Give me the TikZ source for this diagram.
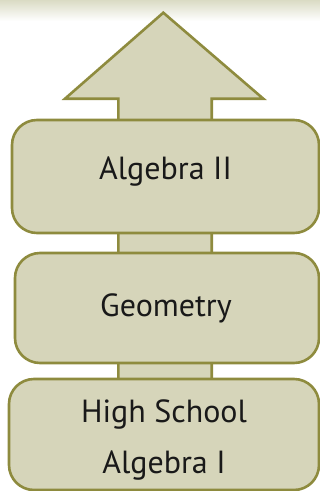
\documentclass[tikz,border=0pt]{standalone}
\usepackage{fontspec}
\setmainfont{PT Sans}
\definecolor{boxfill}{RGB}{214,213,186}
\definecolor{boxline}{RGB}{142,139,62}
\definecolor{bandtop}{RGB}{218,219,196}
\begin{document}
\begin{tikzpicture}[x=1pt,y=-1pt,
  stagebox/.style={draw=boxline, fill=boxfill, line width=2.6pt, rounded corners=25pt, rectangle, inner sep=0pt},
  stagetext/.style={text=black!90, font=\fontsize{32}{51}\selectfont, align=center, inner sep=0pt},
  arrowshape/.style={draw=boxline, fill=boxfill, line width=2.6pt, line join=miter}]
\useasboundingbox (0,0) rectangle (320,491);
\shade[top color=bandtop, bottom color=white] (0,0) rectangle (320,21);
% arrow (the connector running up through the stages)
\coordinate (tip) at (163.3,12.7);
\coordinate (hl) at (65,98.7);
\coordinate (hr) at (263.3,98.7);
\coordinate (sl) at (118.3,98.7);
\coordinate (sr) at (211.7,98.7);
\coordinate (bl) at (118.3,484);
\coordinate (br) at (211.7,484);
\draw[arrowshape] (tip) -- (hr) -- (sr) -- (br) -- (bl) -- (sl) -- (hl) -- cycle;
% stages
\node[stagebox, minimum width=307pt, minimum height=113pt] (b1) at (165.5,176.5) {};
\node[stagebox, minimum width=304pt, minimum height=110pt] (b2) at (167,308) {};
\node[stagebox, minimum width=310pt, minimum height=111pt] (b3) at (164,434.5) {};
\node[stagetext, anchor=base] (t1) at (165.5,179) {Algebra II};
\node[stagetext, anchor=base] (t2) at (166,316) {Geometry};
\node[stagetext, anchor=base] (t3) at (164,473) {High School\\Algebra I};
\end{tikzpicture}
\end{document}
